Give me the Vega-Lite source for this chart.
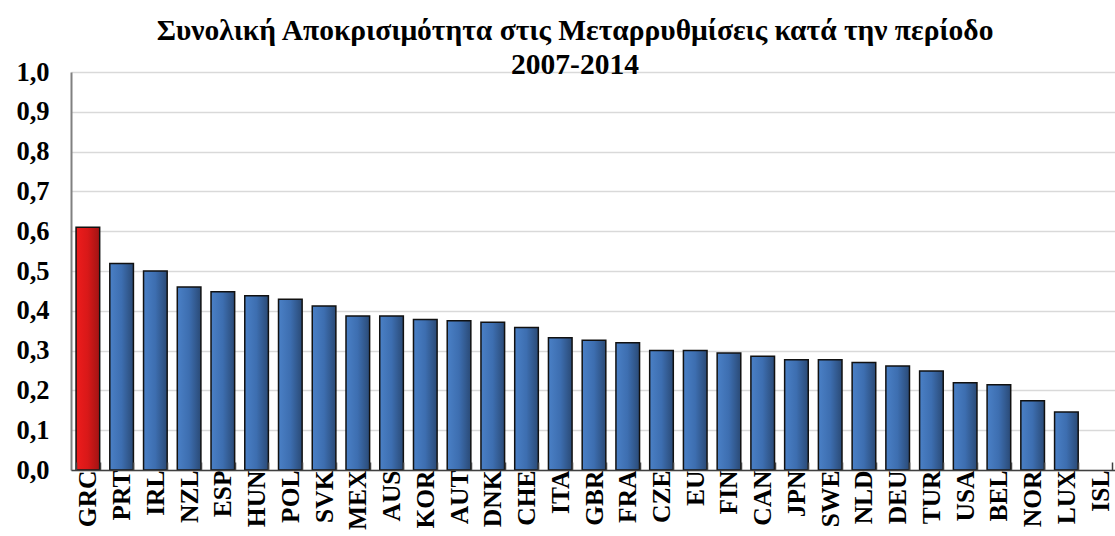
{
  "$schema": "https://vega.github.io/schema/vega-lite/v6.json",
  "autosize": {"type": "none"},
  "width": 1046,
  "height": 398,
  "padding": {"left": 71, "top": 72, "right": 0, "bottom": 66},
  "background": "white",
  "config": {"view": {"stroke": null}},
  "title": {
    "text": ["Συνολική Αποκρισιμότητα στις Μεταρρυθμίσεις κατά την περίοδο", "2007-2014"],
    "font": "Liberation Serif",
    "fontSize": 29.5,
    "fontWeight": "bold",
    "color": "black",
    "lineHeight": 34,
    "anchor": "middle",
    "dx": -19,
    "dy": 25,
    "offset": 4
  },
  "data": {
    "values": [
      {"country": "GRC", "value": 0.61},
      {"country": "PRT", "value": 0.519},
      {"country": "IRL", "value": 0.50},
      {"country": "NZL", "value": 0.46},
      {"country": "ESP", "value": 0.448},
      {"country": "HUN", "value": 0.438},
      {"country": "POL", "value": 0.429},
      {"country": "SVK", "value": 0.412},
      {"country": "MEX", "value": 0.387},
      {"country": "AUS", "value": 0.387},
      {"country": "KOR", "value": 0.378},
      {"country": "AUT", "value": 0.375},
      {"country": "DNK", "value": 0.371},
      {"country": "CHE", "value": 0.358},
      {"country": "ITA", "value": 0.332},
      {"country": "GBR", "value": 0.326},
      {"country": "FRA", "value": 0.32},
      {"country": "CZE", "value": 0.30},
      {"country": "EU", "value": 0.30},
      {"country": "FIN", "value": 0.294},
      {"country": "CAN", "value": 0.286},
      {"country": "JPN", "value": 0.277},
      {"country": "SWE", "value": 0.277},
      {"country": "NLD", "value": 0.27},
      {"country": "DEU", "value": 0.261},
      {"country": "TUR", "value": 0.249},
      {"country": "USA", "value": 0.219},
      {"country": "BEL", "value": 0.214},
      {"country": "NOR", "value": 0.174},
      {"country": "LUX", "value": 0.146},
      {"country": "ISL", "value": 0}
    ]
  },
  "encoding": {
    "x": {
      "field": "country",
      "type": "nominal",
      "sort": null,
      "scale": {
        "domain": ["GRC", "PRT", "IRL", "NZL", "ESP", "HUN", "POL", "SVK", "MEX", "AUS", "KOR", "AUT", "DNK", "CHE", "ITA", "GBR", "FRA", "CZE", "EU", "FIN", "CAN", "JPN", "SWE", "NLD", "DEU", "TUR", "USA", "BEL", "NOR", "LUX", "ISL"],
        "paddingInner": 0.3,
        "paddingOuter": 0.15
      },
      "axis": {
        "title": null,
        "labelAngle": -90,
        "labelFont": "Liberation Serif",
        "labelFontSize": 25.5,
        "labelFontWeight": "bold",
        "labelColor": "black",
        "labelPadding": 8,
        "labelAlign": "right",
        "labelBaseline": "middle",
        "domainColor": "#404040",
        "domainWidth": 1.5,
        "tickBand": "extent",
        "tickSize": -8,
        "tickColor": "#404040",
        "tickWidth": 1.5,
        "zindex": 1
      }
    },
    "y": {
      "field": "value",
      "type": "quantitative",
      "scale": {"domain": [0, 1], "nice": false},
      "axis": {
        "title": null,
        "values": [0, 0.1, 0.2, 0.3, 0.4, 0.5, 0.6, 0.7, 0.8, 0.9, 1.0],
        "labelExpr": "replace(format(datum.value, '.1f'), '.', ',')",
        "labelFont": "Liberation Serif",
        "labelFontSize": 26.5,
        "labelFontWeight": "bold",
        "labelColor": "black",
        "labelPadding": 22,
        "ticks": false,
        "domainColor": "#808080",
        "domainWidth": 2,
        "gridColor": "#d9d9d9",
        "gridWidth": 1.5
      }
    }
  },
  "layer": [
    {
      "transform": [{"filter": "datum.country !== 'GRC' && datum.value > 0"}],
      "mark": {
        "type": "bar",
        "stroke": "#111111",
        "strokeWidth": 1.5,
        "color": {
          "gradient": "linear",
          "x1": 0, "y1": 0, "x2": 1, "y2": 0,
          "stops": [
            {"offset": 0, "color": "#4a80c6"},
            {"offset": 0.5, "color": "#3d6eb0"},
            {"offset": 1, "color": "#2a4a76"}
          ]
        }
      }
    },
    {
      "transform": [{"filter": "datum.country === 'GRC'"}],
      "mark": {
        "type": "bar",
        "stroke": "#111111",
        "strokeWidth": 1.5,
        "color": {
          "gradient": "linear",
          "x1": 0, "y1": 0, "x2": 1, "y2": 0,
          "stops": [
            {"offset": 0, "color": "#ee1c1c"},
            {"offset": 0.5, "color": "#d81818"},
            {"offset": 1, "color": "#a01414"}
          ]
        }
      }
    }
  ]
}
